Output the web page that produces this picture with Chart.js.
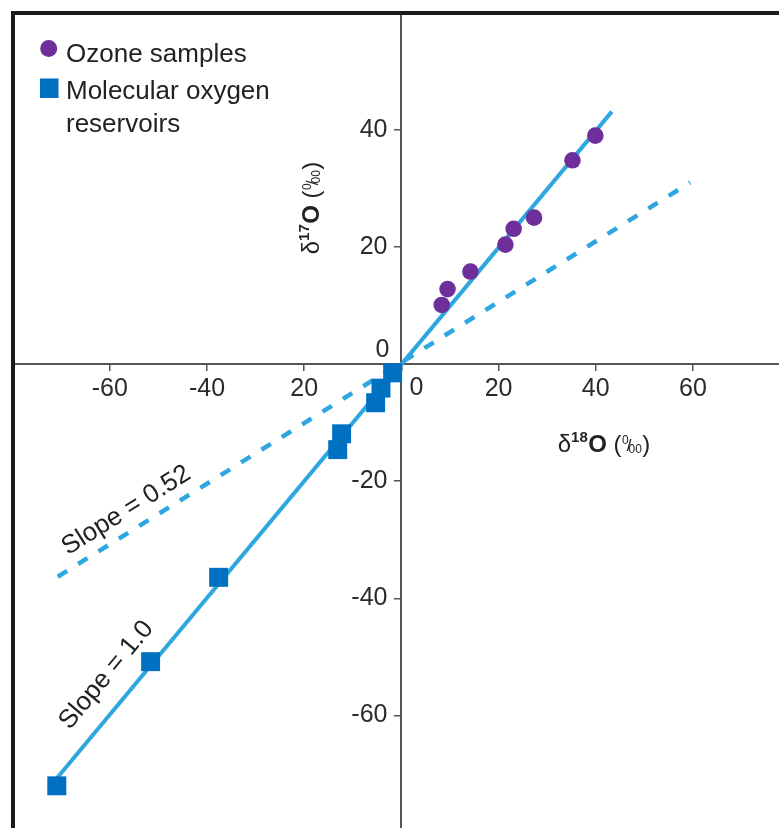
<!DOCTYPE html>
<html><head><meta charset="utf-8">
<script src="https://cdn.jsdelivr.net/npm/chart.js@4.4.1/dist/chart.umd.min.js"></script>
<style>html,body{margin:0;padding:0;background:#fff;overflow:hidden;}canvas{display:block;}</style>
</head><body><canvas id="c" width="779" height="828" style="width:779px;height:828px;"></canvas>
<script>
// ---- data ----
const ozoneD18 = [8.3, 9.5, 14.2, 21.4, 23.1, 27.3, 35.2, 39.9];
const ozoneD17 = [10.1, 12.8, 15.8, 20.4, 23.1, 25.0, 34.8, 39.0];
const oxygenD18 = [-70.9, -51.6, -37.6, -13.1, -12.3, -5.3, -4.2, -1.8];
const oxygenD17 = [-72.0, -50.8, -36.4, -14.6, -11.9, -6.6, -4.1, -1.5];
const slope1LineX = [-72.6, 43.3];
const slope1LineY = [-72.4, 43.1];
const slope052LineX = [-70.7, 59.4];
const slope052LineY = [-36.3, 31.0];
const xTickValues = [-60, -40, -20, 0, 20, 40, 60];
const xTickLabels = ['-60', '-40', '20', '0', '20', '40', '60'];
const yTickValues = [-60, -40, -20, 0, 20, 40];
const yTickLabels = ['-60', '-40', '-20', '0', '20', '40'];
const seriesNames = ['Ozone samples', 'Molecular oxygen reservoirs'];
const slopeValues = [1.0, 0.52];
const slopeTexts = ['Slope = 1.0', 'Slope = 0.52'];

const FONT = "'Liberation Sans', Arial, Helvetica, sans-serif";
Chart.defaults.font.family = FONT;
const PURPLE = '#6f2f9b', BLUE = '#0070c0', LINE = '#2ea7e0', TXT = '#222';

function pts(xs, ys) { return xs.map((x, i) => ({x: x, y: ys[i]})); }
function zeroPad(s) { s.paddingTop = 0; s.paddingBottom = 0; s.paddingLeft = 0; s.paddingRight = 0; }

function drawRich(ctx, pieces, cx, cy, rot) {
  ctx.save(); ctx.translate(cx, cy); ctx.rotate(rot);
  let total = 0;
  pieces.forEach(p => { ctx.font = p.f; p.w = ctx.measureText(p.t).width; total += p.w + (p.g || 0); });
  let x = -total / 2;
  ctx.textAlign = 'left'; ctx.textBaseline = 'alphabetic'; ctx.fillStyle = TXT;
  pieces.forEach(p => { ctx.font = p.f; ctx.fillText(p.t, x, p.dy || 0); x += p.w + (p.g || 0); });
  ctx.restore();
}
function titlePieces(iso) {
  return [
    {t: 'δ', f: '24px ' + FONT},
    {t: iso, f: 'bold 15px ' + FONT, dy: -10, g: 0.5},
    {t: 'O', f: 'bold 24px ' + FONT},
    {t: ' (', f: '24px ' + FONT, g: 0.5},
    {t: '0', f: '12px ' + FONT, dy: -8, g: -2},
    {t: '/', f: '17px ' + FONT, dy: -1, g: -3},
    {t: '00', f: '12px ' + FONT, dy: 1, g: 0.5},
    {t: ')', f: '24px ' + FONT}
  ];
}

const overlay = {
  id: 'overlay',
  afterDraw(chart) {
    const ctx = chart.ctx, xs = chart.scales.x, ys = chart.scales.y, ca = chart.chartArea;
    ctx.save();
    // frame (top & left)
    ctx.fillStyle = '#1b1b1b';
    ctx.fillRect(ca.left - 4, ca.top - 4, ca.right - ca.left + 4, 4);
    ctx.fillRect(ca.left - 4, ca.top - 4, 4, ca.bottom - ca.top + 4);
    const x0 = xs.getPixelForValue(0), y0 = ys.getPixelForValue(0);
    // zero labels, offset from the origin
    ctx.fillStyle = '#2b2b2b'; ctx.font = '25px ' + FONT;
    ctx.textAlign = 'right'; ctx.textBaseline = 'middle';
    ctx.fillText(yTickLabels[yTickValues.indexOf(0)], x0 - 12, y0 - 13.5);
    ctx.textAlign = 'center';
    ctx.fillText(xTickLabels[xTickValues.indexOf(0)], x0 + 15, y0 + 24.5);
    // axis titles
    drawRich(ctx, titlePieces('18'), 604, 452, 0);
    drawRich(ctx, titlePieces('17'), 318.5, 208, -Math.PI / 2);
    // legend
    const ds = chart.data.datasets;
    ctx.fillStyle = ds[0].backgroundColor;
    ctx.beginPath(); ctx.arc(48.7, 48.5, 8.5, 0, Math.PI * 2); ctx.fill();
    ctx.fillStyle = ds[1].backgroundColor;
    ctx.fillRect(40, 78.5, 18.5, 19.5);
    ctx.fillStyle = TXT; ctx.font = '26px ' + FONT; ctx.textAlign = 'left'; ctx.textBaseline = 'alphabetic';
    ctx.fillText(ds[0].label, 66, 61.5);
    const words = ds[1].label.split(' ');
    ctx.fillText(words.slice(0, 2).join(' '), 66, 98.5);
    ctx.fillText(words.slice(2).join(' '), 66, 132);
    // slope annotations rotated along the lines
    const anchors = [[-60.7, -53.1], [-56.6, -25.0]];
    ctx.font = '26px ' + FONT; ctx.textAlign = 'center'; ctx.textBaseline = 'middle';
    slopeValues.forEach((m, i) => {
      const dx = xs.getPixelForValue(10) - xs.getPixelForValue(0);
      const dy = ys.getPixelForValue(10 * m) - ys.getPixelForValue(0);
      const ang = Math.atan2(dy, dx);
      ctx.save();
      ctx.translate(xs.getPixelForValue(anchors[i][0]), ys.getPixelForValue(anchors[i][1]));
      ctx.rotate(ang);
      ctx.fillText(slopeTexts[i], 0, 0);
      ctx.restore();
    });
    ctx.restore();
  }
};

new Chart(document.getElementById('c'), {
  type: 'scatter',
  data: {
    datasets: [
      {label: seriesNames[0], data: pts(ozoneD18, ozoneD17), pointStyle: 'circle', pointRadius: 8.3,
       backgroundColor: PURPLE, borderWidth: 0, pointBorderWidth: 0},
      {label: seriesNames[1], data: pts(oxygenD18, oxygenD17), pointStyle: 'rect', pointRadius: 13.4,
       backgroundColor: BLUE, borderWidth: 0, pointBorderWidth: 0},
      {label: 'slope 1.0', data: pts(slope1LineX, slope1LineY), showLine: true, pointRadius: 0,
       borderColor: LINE, borderWidth: 4, fill: false},
      {label: 'slope 0.52', data: pts(slope052LineX, slope052LineY), showLine: true, pointRadius: 0,
       borderColor: LINE, borderWidth: 4.5, borderDash: [11, 13], borderCapStyle: 'butt', fill: false}
    ]
  },
  options: {
    responsive: false, animation: false, devicePixelRatio: 1,
    events: [],
    layout: {autoPadding: false, padding: {left: 15, top: 15, right: 0, bottom: 0}},
    plugins: {legend: {display: false}, tooltip: {enabled: false}},
    scales: {
      x: {
        type: 'linear', min: -79.5, max: 77.7, position: {y: 0},
        afterBuildTicks: s => { s.ticks = xTickValues.map(v => ({value: v})); },
        afterFit: zeroPad,
        ticks: {
          callback: v => v === 0 ? '' : xTickLabels[xTickValues.indexOf(v)],
          font: {size: 25}, color: '#2b2b2b', padding: 4, autoSkip: false, maxRotation: 0
        },
        grid: {drawOnChartArea: false, drawTicks: true, tickLength: 6, color: '#555', lineWidth: 1.5},
        border: {display: true, color: '#555', width: 2}
      },
      y: {
        type: 'linear', min: -79.2, max: 59.6, position: {x: 0},
        afterBuildTicks: s => { s.ticks = yTickValues.map(v => ({value: v})); },
        afterFit: zeroPad,
        ticks: {
          // labels of an axis placed at x=0 are right-aligned on the axis; trailing spaces give the gap
          callback: v => v === 0 ? '' : yTickLabels[yTickValues.indexOf(v)] + '  ',
          font: {size: 25}, color: '#2b2b2b', padding: 8, autoSkip: false
        },
        grid: {drawOnChartArea: false, drawTicks: true, tickLength: 6, color: '#555', lineWidth: 1.5},
        border: {display: true, color: '#555', width: 2}
      }
    }
  },
  plugins: [overlay]
});
</script>
</body></html>
